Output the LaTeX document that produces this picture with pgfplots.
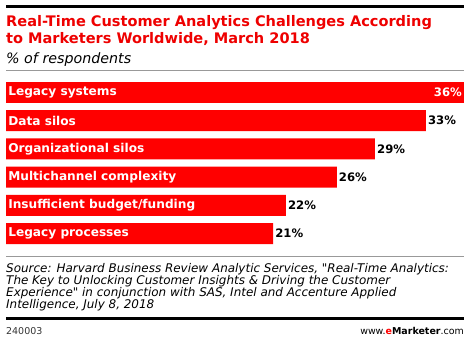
\documentclass[border=0pt]{standalone}
\usepackage{fontspec}
\setmainfont{DejaVu Sans}
\newfontfamily\srcfont{DejaVu Sans}
\usepackage{pgfplots}
\pgfplotsset{compat=1.18}
\definecolor{emred}{HTML}{FF0000}
\definecolor{tred}{HTML}{EE0000}
\definecolor{lgray}{HTML}{999999}
\begin{document}
\begin{tikzpicture}
\path[use as bounding box] (0bp,0bp) rectangle (470bp,-342bp);
\draw[line width=3bp] (6bp,-6.5bp) -- (464bp,-6.5bp);
\node[anchor=base west, inner sep=0pt, font=\bfseries\fontsize{14.6}{16}\selectfont, text=tred] at (6bp,-26bp) {Real-Time Customer Analytics Challenges According};
\node[anchor=base west, inner sep=0pt, font=\bfseries\fontsize{14.6}{16}\selectfont, text=tred] at (6bp,-43bp) {to Marketers Worldwide, March 2018};
\node[anchor=base west, inner sep=0pt, font=\itshape\fontsize{14.3}{15}\selectfont] at (6bp,-63bp) {\% of respondents};
\draw[lgray, line width=1bp] (6bp,-70bp) -- (464bp,-70bp);
\begin{axis}[
  at={(6bp,-247.6bp)}, anchor=south west,
  scale only axis, width=458bp, height=169.2bp,
  xbar, bar width=21bp,
  xmin=0, xmax=36, ymin=-0.5, ymax=5.5, y dir=reverse,
  axis line style={draw=none}, tick style={draw=none},
  axis on top,
  xtick=\empty, ytick={0,1,2,3,4,5},
  yticklabels={Legacy systems, Data silos, Organizational silos, Multichannel complexity, Insufficient budget/funding, Legacy processes},
  yticklabel style={anchor=west, xshift=3bp, text=white, font=\bfseries\fontsize{12.2}{13}\selectfont},
  /pgf/number format/assume math mode=true,
  clip=false,
]
\addplot[fill=emred, draw=none, bar shift=0pt,
  nodes near coords={\pgfmathprintnumber{\pgfplotspointmeta}\%},
  nodes near coords style={anchor=west, inner sep=2bp, text=black, font=\bfseries\fontsize{11.7}{13}\selectfont}]
  coordinates {(33,1) (29,2) (26,3) (22,4) (21,5)};
\addplot[fill=emred, draw=none, bar shift=0pt,
  nodes near coords={\pgfmathprintnumber{\pgfplotspointmeta}\%},
  nodes near coords style={anchor=east, inner sep=2bp, text=white, font=\bfseries\fontsize{11.7}{13}\selectfont}]
  coordinates {(36,0)};
\end{axis}
\draw[lgray, line width=1bp] (6bp,-256bp) -- (464bp,-256bp);
\begin{scope}[every node/.style={anchor=base west, inner sep=0pt, font=\srcfont\itshape\fontsize{12}{12}\selectfont}]
\node at (6bp,-272bp) {Source: Harvard Business Review Analytic Services, "Real-Time Analytics:};
\node at (6bp,-284bp) {The Key to Unlocking Customer Insights \& Driving the Customer};
\node at (6bp,-296bp) {Experience" in conjunction with SAS, Intel and Accenture Applied};
\node at (6bp,-308bp) {Intelligence, July 8, 2018};
\end{scope}
\draw[line width=3bp] (6bp,-318.5bp) -- (464bp,-318.5bp);
\node[anchor=base west, inner sep=0pt, font=\fontsize{9.5}{10}\selectfont, text=black!80] at (6bp,-334bp) {240003};
\node[anchor=base east, inner sep=0pt, font=\fontsize{9.5}{10}\selectfont] at (464bp,-334bp) {www.{\bfseries\textcolor{emred}{e}Marketer}.com};
\end{tikzpicture}
\end{document}
